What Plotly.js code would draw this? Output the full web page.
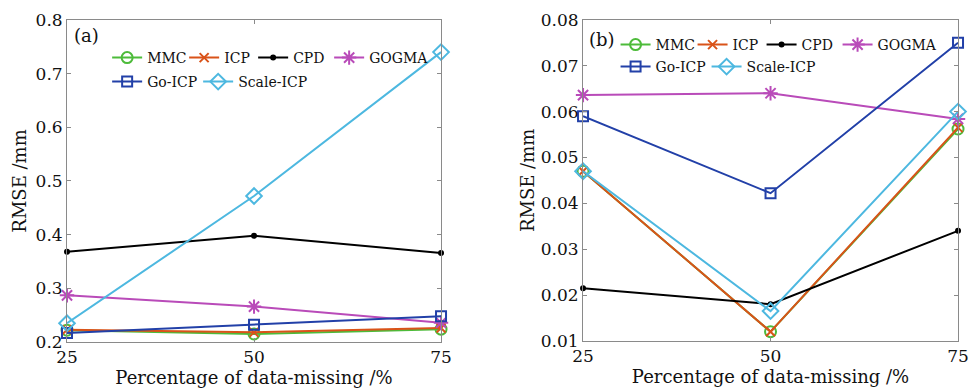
<!DOCTYPE html>
<html>
<head>
<meta charset="utf-8">
<script src="https://cdn.plot.ly/plotly-3.0.1.min.js"></script>
<style>html,body{margin:0;padding:0;background:#fff;}#chart{width:974px;height:390px;}</style>
</head>
<body>
<div id="chart"></div>
<script>
const missing = [25, 50, 75];
const seriesNames = ["MMC", "ICP", "CPD", "GOGMA", "Go-ICP", "Scale-ICP"];

// Panel (a) RMSE /mm
const a_MMC = [0.222, 0.215, 0.224];
const a_ICP = [0.223, 0.218, 0.226];
const a_CPD = [0.368, 0.398, 0.366];
const a_GOGMA = [0.287, 0.266, 0.236];
const a_GoICP = [0.217, 0.232, 0.248];
const a_ScaleICP = [0.235, 0.472, 0.740];

// Panel (b) RMSE /mm
const b_MMC = [0.047, 0.012, 0.0562];
const b_ICP = [0.047, 0.012, 0.0565];
const b_CPD = [0.0215, 0.018, 0.034];
const b_GOGMA = [0.0636, 0.0640, 0.0584];
const b_GoICP = [0.059, 0.0422, 0.075];
const b_ScaleICP = [0.047, 0.0165, 0.060];

const yTicksA = [0.2, 0.3, 0.4, 0.5, 0.6, 0.7, 0.8];
const yTicksB = [0.01, 0.02, 0.03, 0.04, 0.05, 0.06, 0.07, 0.08];
const xTicks = [25, 50, 75];

const styles = {
  "MMC": {color: "#4dbb3a", symbol: "circle-open", size: 11, lw: 32},
  "ICP": {color: "#d95319", symbol: "x-thin-open", size: 9, lw: 24},
  "CPD": {color: "#000000", symbol: "circle", size: 4, lw: 31},
  "GOGMA": {color: "#b94bb9", symbol: "asterisk-open", size: 12, lw: null},
  "Go-ICP": {color: "#2240a8", symbol: "square-open", size: 10, lw: 46},
  "Scale-ICP": {color: "#4db8e0", symbol: "diamond-open", size: 12, lw: null}
};

const dataA = [a_MMC, a_ICP, a_CPD, a_GOGMA, a_GoICP, a_ScaleICP];
const dataB = [b_MMC, b_ICP, b_CPD, b_GOGMA, b_GoICP, b_ScaleICP];

const traces = [];
function addPanel(vals, xa, ya, leg1, leg2) {
  seriesNames.forEach((n, i) => {
    const s = styles[n];
    const t = {
      x: missing, y: vals[i], name: n, type: "scatter", mode: "lines+markers",
      xaxis: xa, yaxis: ya, cliponaxis: false,
      legend: i < 4 ? leg1 : leg2,
      line: {color: s.color, width: 2},
      marker: {symbol: s.symbol, size: s.size, color: s.color, line: {color: s.color, width: 2}}
    };
    if (s.lw) t.legendwidth = s.lw;
    traces.push(t);
  });
}
addPanel(dataA, "x", "y", "legend", "legend2");
addPanel(dataB, "x2", "y2", "legend3", "legend4");

const FONT = "DejaVu Serif";
const axBase = {
  showgrid: false, zeroline: false, showline: true, linecolor: "#8a8a8a", linewidth: 1,
  mirror: "ticks", ticks: "inside", ticklen: 4, tickcolor: "#8a8a8a",
  tickfont: {family: FONT, size: 17, color: "#111"}
};
const legBase = {
  orientation: "h", xanchor: "left", yanchor: "middle", bgcolor: "rgba(0,0,0,0)",
  font: {family: FONT, size: 14, color: "#111"}, itemwidth: 30, tracegroupgap: 0
};
const titleFont = {family: FONT, size: 18, color: "#111"};

const layout = {
  width: 974, height: 390, margin: {l: 0, r: 0, t: 0, b: 0},
  paper_bgcolor: "#fff", plot_bgcolor: "#fff",
  xaxis: Object.assign({}, axBase, {domain: [0.0688, 0.4528], range: [25, 75], tickvals: xTicks,
    title: {text: "Percentage of data-missing /%", font: titleFont, standoff: 3}}),
  yaxis: Object.assign({}, axBase, {domain: [0.123, 0.949], range: [0.2, 0.8], tickvals: yTicksA, tickformat: ".1f",
    title: {text: "RMSE /mm", font: titleFont, standoff: 4}}),
  xaxis2: Object.assign({}, axBase, {domain: [0.5986, 0.9836], range: [25, 75], tickvals: xTicks, anchor: "y2",
    title: {text: "Percentage of data-missing /%", font: titleFont, standoff: 3}}),
  yaxis2: Object.assign({}, axBase, {domain: [0.126, 0.949], range: [0.01, 0.08], tickvals: yTicksB, tickformat: ".2f", anchor: "x2",
    title: {text: "RMSE /mm", font: titleFont, standoff: 1}}),
  legend: Object.assign({}, legBase, {x: 0.110, y: 1 - 58 / 390}),
  legend2: Object.assign({}, legBase, {x: 0.110, y: 1 - 82 / 390}),
  legend3: Object.assign({}, legBase, {x: 0.632, y: 1 - 45 / 390}),
  legend4: Object.assign({}, legBase, {x: 0.632, y: 1 - 67 / 390}),
  showlegend: true,
  annotations: [
    {text: "(a)", xref: "paper", yref: "paper", x: 72 / 974, y: 1 - 35 / 390, xanchor: "left", yanchor: "middle", showarrow: false, font: {family: FONT, size: 18, color: "#111"}},
    {text: "(b)", xref: "paper", yref: "paper", x: 587 / 974, y: 1 - 40 / 390, xanchor: "left", yanchor: "middle", showarrow: false, font: {family: FONT, size: 18, color: "#111"}}
  ]
};

Plotly.newPlot("chart", traces, layout, {staticPlot: true, displayModeBar: false});
</script>
</body>
</html>
